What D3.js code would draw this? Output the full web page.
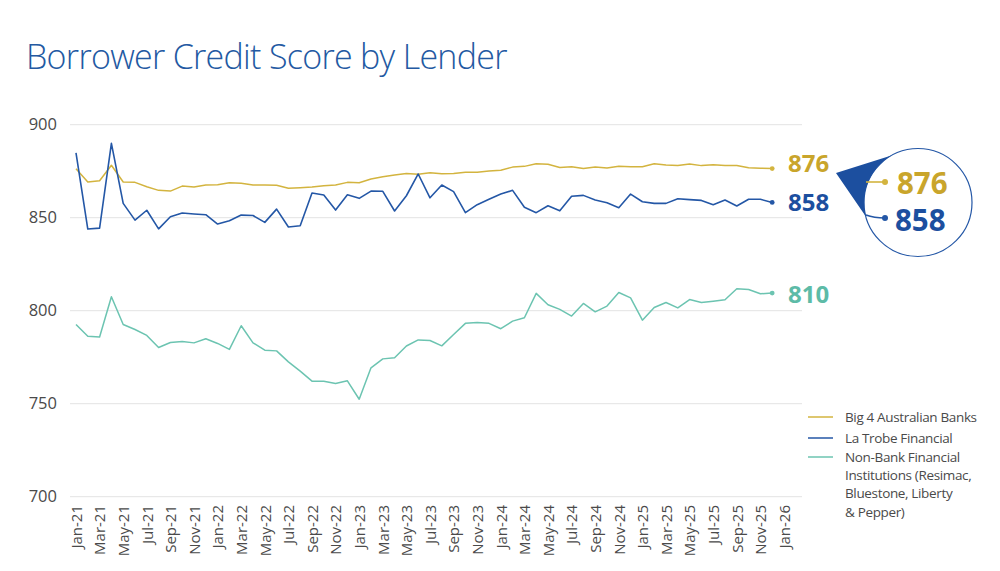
<!DOCTYPE html>
<html>
<head>
<meta charset="utf-8">
<script src="https://cdn.jsdelivr.net/npm/d3@7"></script>
<style>
  html, body { margin: 0; padding: 0; background: #fff; }
  svg { display: block; font-family: "Open Sans", "Noto Sans", sans-serif; }
</style>
</head>
<body>
<svg id="chart" width="1000" height="571"></svg>
<script>
// ---------- DATA ----------
const months = ["Jan-21","Feb-21","Mar-21","Apr-21","May-21","Jun-21","Jul-21","Aug-21","Sep-21","Oct-21","Nov-21","Dec-21",
  "Jan-22","Feb-22","Mar-22","Apr-22","May-22","Jun-22","Jul-22","Aug-22","Sep-22","Oct-22","Nov-22","Dec-22",
  "Jan-23","Feb-23","Mar-23","Apr-23","May-23","Jun-23","Jul-23","Aug-23","Sep-23","Oct-23","Nov-23","Dec-23",
  "Jan-24","Feb-24","Mar-24","Apr-24","May-24","Jun-24","Jul-24","Aug-24","Sep-24","Oct-24","Nov-24","Dec-24",
  "Jan-25","Feb-25","Mar-25","Apr-25","May-25","Jun-25","Jul-25","Aug-25","Sep-25","Oct-25","Nov-25","Dec-25","Jan-26"];
const tickLabels = ["Jan-21","Mar-21","May-21","Jul-21","Sep-21","Nov-21","Jan-22","Mar-22","May-22","Jul-22","Sep-22","Nov-22",
  "Jan-23","Mar-23","May-23","Jul-23","Sep-23","Nov-23","Jan-24","Mar-24","May-24","Jul-24","Sep-24","Nov-24",
  "Jan-25","Mar-25","May-25","Jul-25","Sep-25","Nov-25","Jan-26"];
const yTicks = [700, 750, 800, 850, 900];

const big4 = [876.3,869.2,869.9,878.2,869.2,869.0,866.6,864.7,864.3,867.0,866.5,867.6,
  867.7,868.8,868.5,867.6,867.6,867.4,865.8,866.1,866.5,867.2,867.6,869.0,
  868.8,870.8,872.0,872.9,873.8,873.3,874.2,873.6,873.8,874.4,874.5,875.1,
  875.5,877.2,877.6,879.0,878.7,877.0,877.4,876.5,877.2,876.7,877.6,877.4,
  877.4,879.0,878.3,878.1,878.9,878.0,878.5,878.0,878.1,876.8,876.6,876.4];
const laTrobe = [884.9,843.9,844.4,890.0,857.7,848.7,854.0,844.0,850.5,852.5,852.0,851.6,
  846.6,848.4,851.4,851.2,847.5,854.6,845.0,845.7,863.3,862.2,854.1,862.3,
  860.4,864.3,864.2,853.6,861.8,873.5,860.7,867.6,864.0,852.7,857.0,859.9,
  862.7,864.7,855.6,852.7,856.4,853.7,861.5,862.0,859.5,858.0,855.4,862.7,
  858.6,857.7,857.7,860.2,859.7,859.3,857.0,859.5,856.3,859.9,859.9,858.2];
const nonBank = [792.6,786.3,785.9,807.5,792.6,789.9,786.7,780.2,782.9,783.5,782.7,784.9,
  782.4,779.2,791.9,782.7,778.8,778.4,772.5,767.5,762.1,762.1,760.9,762.3,
  752.4,769.3,774.1,774.7,781.0,784.3,784.0,781.1,787.2,793.2,793.7,793.2,
  790.3,794.4,796.2,809.3,803.2,800.7,797.1,803.9,799.4,802.5,809.8,806.9,
  794.9,801.7,804.4,801.5,806.0,804.4,805.1,805.9,811.8,811.4,809.1,809.5];

const seriesNames = ["Big 4 Australian Banks", "La Trobe Financial", "Non-Bank Financial Institutions (Resimac, Bluestone, Liberty & Pepper)"];
const legendLines = [["Big 4 Australian Banks"], ["La Trobe Financial"], ["Non-Bank Financial", "Institutions (Resimac,", "Bluestone, Liberty", "& Pepper)"]];
const lineColors = ["#d3b43f", "#2457a6", "#6cc4b1"];
const textColors = ["#c9a52b", "#1c4f9f", "#5dbba7"];
const title = "Borrower Credit Score by Lender";

// ---------- CHART ----------
const svg = d3.select("#chart");
const x = d3.scalePoint().domain(months).range([76, 784]);
const y = d3.scaleLinear().domain([700, 900]).range([496.7, 124.7]);

svg.append("text").attr("x", 26).attr("y", 69)
  .attr("font-size", 34).attr("font-weight", 300).attr("fill", "#2359a2")
  .attr("letter-spacing", -0.7)
  .text(title);

// gridlines
svg.append("g").selectAll("line").data(yTicks).join("line")
  .attr("x1", 70).attr("x2", 802)
  .attr("y1", d => y(d)).attr("y2", d => y(d))
  .attr("stroke", "#e3e3e3").attr("stroke-width", 1);

// y axis
const yAxis = svg.append("g").attr("transform", "translate(70,0)")
  .call(d3.axisLeft(y).tickValues(yTicks).tickSize(0).tickPadding(13));
yAxis.select(".domain").remove();
yAxis.selectAll("text").attr("font-size", 16.5).attr("fill", "#4a4a4a")
  .attr("font-family", "Open Sans, sans-serif");

// x axis
const xAxis = svg.append("g").attr("transform", "translate(0,503)")
  .call(d3.axisBottom(x).tickValues(tickLabels).tickSize(0).tickPadding(0));
xAxis.select(".domain").remove();
xAxis.selectAll("text")
  .attr("font-size", 15).attr("fill", "#4a4a4a").attr("font-family", "Open Sans, sans-serif")
  .attr("transform", "rotate(-90)")
  .attr("text-anchor", "end").attr("x", -2).attr("y", 0).attr("dy", "0.35em");

// lines
const allSeries = [big4, laTrobe, nonBank];
const line = d3.line().x((d, i) => x(months[i])).y(d => y(d));
allSeries.forEach((s, k) => {
  svg.append("path").datum(s).attr("d", line)
    .attr("fill", "none").attr("stroke", lineColors[k]).attr("stroke-width", k === 1 ? 1.6 : 1.5)
    .attr("stroke-linejoin", "round");
  const li = s.length - 1;
  svg.append("circle").attr("cx", x(months[li])).attr("cy", y(s[li])).attr("r", 2.4).attr("fill", lineColors[k]);
});

// end labels
const labelDy = [-5, 0, 2];
allSeries.forEach((s, k) => {
  const li = s.length - 1;
  svg.append("text").attr("x", 788).attr("y", y(s[li]) + labelDy[k]).attr("dy", "0.35em")
    .attr("font-size", 24).attr("font-weight", 700).attr("fill", textColors[k])
    .text(Math.round(s[li]));
});

// callout magnifier
const cx = 918, cy = 202.5, r = 54;
const a1 = 240.5 * Math.PI / 180, a2 = 165 * Math.PI / 180;
const t1 = [cx + r * Math.cos(a1), cy + r * Math.sin(a1)];
const t2 = [cx + r * Math.cos(a2), cy + r * Math.sin(a2)];
svg.append("circle").attr("cx", cx).attr("cy", cy).attr("r", r)
  .attr("fill", "#fff").attr("stroke", "#2457a6").attr("stroke-width", 1.2);
svg.append("path")
  .attr("d", `M836,173 L${t1[0]},${t1[1]} A${r},${r} 0 0 0 ${t2[0]},${t2[1]} Z`)
  .attr("fill", "#1c4f9f");
svg.append("line").attr("x1", 866).attr("x2", 885).attr("y1", 182).attr("y2", 182)
  .attr("stroke", lineColors[0]).attr("stroke-width", 1.6);
svg.append("circle").attr("cx", 885).attr("cy", 182).attr("r", 3).attr("fill", lineColors[0]);
svg.append("path").attr("d", "M866,215 Q874,218 885,218")
  .attr("fill", "none").attr("stroke", lineColors[1]).attr("stroke-width", 1.6);
svg.append("circle").attr("cx", 885).attr("cy", 218).attr("r", 3).attr("fill", lineColors[1]);
svg.append("text").attr("x", 897).attr("y", 184).attr("dy", "0.35em")
  .attr("font-size", 29.5).attr("font-weight", 700).attr("fill", textColors[0])
  .text(Math.round(big4[big4.length - 1]));
svg.append("text").attr("x", 895).attr("y", 221).attr("dy", "0.35em")
  .attr("font-size", 29.5).attr("font-weight", 700).attr("fill", textColors[1])
  .text(Math.round(laTrobe[laTrobe.length - 1]));

// legend
const legY = [417, 438, 457];
legendLines.forEach((lines, k) => {
  svg.append("line").attr("x1", 808).attr("x2", 833).attr("y1", legY[k]).attr("y2", legY[k])
    .attr("stroke", lineColors[k]).attr("stroke-width", 1.5);
  const t = svg.append("text").attr("x", 845).attr("y", legY[k])
    .attr("font-size", 13.5).attr("fill", "#4a4a4a").attr("letter-spacing", -0.35);
  lines.forEach((ln, j) => {
    t.append("tspan").attr("x", 845).attr("dy", j === 0 ? "0.35em" : "1.36em").text(ln);
  });
});
</script>
</body>
</html>
